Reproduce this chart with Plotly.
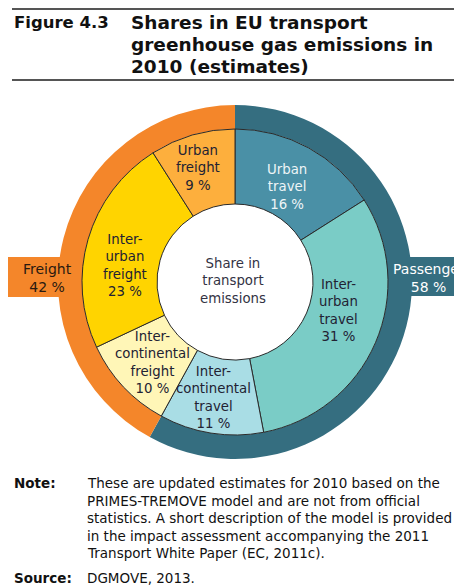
import plotly.graph_objects as go

# page body keeps the browser's 8px margin, so the figure is drawn from (8, 8)
OFF = 8
W, H = 462 - OFF, 585 - OFF

# data
groups = ["Passenger", "Freight"]
group_shares = [58, 42]
group_colors = ["#356E80", "#F4862A"]

segments = ["Urban<br>travel", "Inter-<br>urban<br>travel", "Inter-<br>continental<br>travel",
            "Inter-<br>continental<br>freight", "Inter-<br>urban<br>freight", "Urban<br>freight"]
segment_shares = [16, 31, 11, 10, 23, 9]
segment_colors = ["#4A90A6", "#7ACCC6", "#A9DDE5", "#FFF6B7", "#FFD400", "#FDAF3D"]
segment_text_colors = ["#EEF5F7", "#222233", "#222233", "#222233", "#222233", "#222233"]
# label centres in page px (layout only)
segment_label_pos = [(287, 187), (338, 310), (213, 397), (152, 362), (125, 265), (198, 168)]

note_lines = [
    "These are updated estimates for 2010 based on the",
    "PRIMES-TREMOVE model and are not from official",
    "statistics. A short description of the model is provided",
    "in the impact assessment accompanying the 2011",
    "Transport White Paper (EC, 2011c).",
]
title_lines = ["Shares in EU transport", "greenhouse gas emissions in", "2010 (estimates)"]

FONT = "DejaVu Sans"


def px(x):
    return (x - OFF) / W


def py(y):
    return 1 - (y - OFF) / H


def domain(cx, cy, r):
    return dict(x=[px(cx - r), px(cx + r)], y=[py(cy + r), py(cy - r)])


def text(x, y, s, size, color="#111111", xanchor="center", align="center"):
    return dict(x=px(x), y=py(y), text=s, showarrow=False, xanchor=xanchor, yanchor="middle",
                align=align, font=dict(family=FONT, size=size, color=color))


CX, CY = 235, 282

fig = go.Figure()
fig.add_trace(go.Pie(
    values=group_shares, labels=groups, sort=False, direction="clockwise", rotation=0,
    hole=153 / 177, domain=domain(CX, CY, 177),
    marker=dict(colors=group_colors, line=dict(width=0)),
    textinfo="none", hoverinfo="label+percent", showlegend=False,
))
fig.add_trace(go.Pie(
    values=segment_shares, labels=[s.replace("<br>", " ") for s in segments],
    sort=False, direction="clockwise", rotation=0,
    hole=78 / 153, domain=domain(CX, CY, 153),
    marker=dict(colors=segment_colors, line=dict(width=1, color="#2A2A2A")),
    textinfo="none", hoverinfo="label+percent", showlegend=False,
))

ann = []
for name, share, tc, (x, y) in zip(segments, segment_shares, segment_text_colors, segment_label_pos):
    ann.append(text(x, y, f"{name}<br>{share} %", 13.3, tc))

ann.append(text(233, 281, "Share in<br>transport<br>emissions", 13.3, "#333344"))

# group labels in side boxes
ann.append(text(47, 278, f"{groups[1]}<br>{group_shares[1]} %", 14, "#2A1A10"))
ann.append(text(391, 278, f"{groups[0]}<br>    {group_shares[0]} %", 14, "#FFFFFF",
                xanchor="left", align="left"))

# title
ann.append(text(12, 22, "<b>Figure 4.3</b>", 16.5, xanchor="left"))
for i, line in enumerate(title_lines):
    ann.append(text(129, 22 + 22 * i, f"<b>{line}</b>", 18.5, xanchor="left"))

# note and source
ann.append(text(12, 483, "<b>Note:</b>", 13.5, xanchor="left"))
for i, line in enumerate(note_lines):
    ann.append(text(85, 483 + 17.5 * i, line, 13.5, xanchor="left"))
ann.append(text(12, 578, "<b>Source:</b>", 13.5, xanchor="left"))
ann.append(text(85, 578, "DGMOVE, 2013.", 13.5, xanchor="left"))

shapes = [
    # top rule sits just inside the figure's top edge
    dict(type="line", xref="paper", yref="paper", x0=px(12), x1=1.02, y0=py(9), y1=py(9),
         line=dict(color="#555555", width=2)),
    dict(type="line", xref="paper", yref="paper", x0=px(12), x1=1.02, y0=py(80), y1=py(80),
         line=dict(color="#555555", width=2)),
    dict(type="rect", xref="paper", yref="paper", x0=px(8), x1=px(110), y0=py(297), y1=py(257),
         fillcolor=group_colors[1], line=dict(width=0), layer="below"),
    dict(type="rect", xref="paper", yref="paper", x0=px(360), x1=1.05, y0=py(296), y1=py(257),
         fillcolor=group_colors[0], line=dict(width=0), layer="below"),
]

fig.update_layout(
    width=W, height=H, autosize=False,
    margin=dict(l=0, r=0, t=0, b=0),
    paper_bgcolor="white", plot_bgcolor="white",
    annotations=ann, shapes=shapes,
    font=dict(family=FONT),
)

fig.write_html("out.html")
